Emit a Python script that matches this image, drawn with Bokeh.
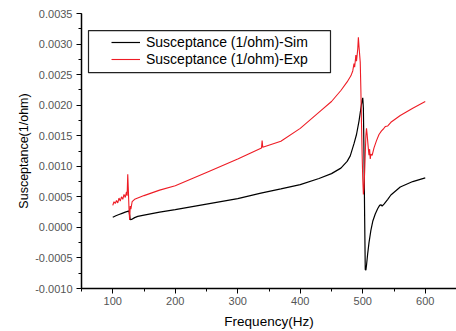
from bokeh.plotting import figure
from bokeh.models import (Range1d, SingleIntervalTicker, PrintfTickFormatter,
                          Legend, LegendItem)
from bokeh.embed import file_html
from bokeh.resources import INLINE

sim_freq = [100, 105, 110, 115, 120, 125, 126, 127, 128, 130, 135, 140, 150, 175,
            200, 250, 300, 337, 369, 400, 430, 450, 465, 475, 480, 486, 490, 494,
            497, 499, 500, 501, 502, 503, 504, 505, 506, 508, 510, 513, 516, 520,
            524, 527, 529, 531, 534, 540, 545, 560, 580, 600]
sim_b = [0.000166, 0.00019, 0.00021, 0.00023, 0.00025, 0.000265, 0.00027, 0.00020,
         0.000125, 0.00013, 0.00016, 0.00018, 0.00020, 0.00025, 0.00029, 0.00038,
         0.00047, 0.00056, 0.00063, 0.00070, 0.00080, 0.00088, 0.00097, 0.00108,
         0.00117, 0.00137, 0.00152, 0.00174, 0.00195, 0.00208, 0.00212, 0.00195,
         0.0012, 0.0002, -0.00069, -0.00070, -0.00062, -0.00042, -0.00025, -0.00005,
         0.0001, 0.00022, 0.00031, 0.00036, 0.00037, 0.00035, 0.00038, 0.00046,
         0.00053, 0.00066, 0.00075, 0.00081]

exp_freq = [100, 102, 104, 106, 108, 110, 112, 114, 116, 118, 120, 122, 123, 124,
            125, 126, 127, 128, 129, 131, 135, 150, 175, 200, 250, 300, 338, 339,
            340, 369, 400, 433, 450, 465, 475, 481, 484, 486, 487, 489, 490, 492,
            493, 494, 496, 497, 498, 499, 500, 501, 502, 503, 504, 505, 506, 507,
            508, 509, 510, 511, 512, 513, 515, 518, 522, 526, 530, 533, 536, 540,
            545, 560, 580, 600]
exp_b = [0.00036, 0.00042, 0.00039, 0.00044, 0.00040, 0.00048, 0.00043, 0.00050,
         0.00046, 0.00054, 0.00049, 0.00058, 0.00052, 0.00087, 0.00060, 0.00030,
         0.00012, 0.00035, 0.00030, 0.00042, 0.00046, 0.00052, 0.00061, 0.00068,
         0.00090, 0.00112, 0.00130, 0.00142, 0.00131, 0.00141, 0.00162, 0.00191,
         0.00206, 0.00224, 0.00238, 0.00248, 0.00256, 0.00268, 0.00262, 0.00282,
         0.00272, 0.00292, 0.00311, 0.00296, 0.00270, 0.00225, 0.00170, 0.00120,
         0.00080, 0.00054, 0.00065, 0.00090, 0.00120, 0.00150, 0.00162, 0.00152,
         0.00140, 0.00128, 0.00118, 0.00128, 0.00112, 0.00120, 0.00118, 0.00130,
         0.00142, 0.00152, 0.00158, 0.00161, 0.00165, 0.00166, 0.00172, 0.00183,
         0.00195, 0.00206]

series_labels = ["Susceptance (1/ohm)-Sim", "Susceptance (1/ohm)-Exp"]
x_title = "Frequency(Hz)"
y_title = "Susceptance(1/ohm)"

# legend frame (layout, in axis units)
legend_box = dict(left=61.2, right=448.4, top=0.003221, bottom=0.002531)

FONT = "Liberation Sans"

p = figure(width=456, height=331, output_backend="svg", toolbar_location=None,
           x_range=Range1d(50, 650), y_range=Range1d(-0.0010, 0.0035),
           min_border_left=81, min_border_top=13, min_border_right=0,
           min_border_bottom=0)
p.outline_line_color = None
p.xgrid.visible = False
p.ygrid.visible = False
p.background_fill_color = "white"
p.border_fill_color = "white"

for ax in (p.xaxis[0], p.yaxis[0]):
    ax.axis_line_color = "black"
    ax.axis_line_width = 1.5
    ax.major_tick_line_color = "black"
    ax.minor_tick_line_color = "black"
    ax.major_tick_out = 5
    ax.major_tick_in = 0
    ax.minor_tick_out = 3
    ax.minor_tick_in = 0
    ax.major_label_text_font = FONT
    ax.major_label_text_font_size = "11px"
    ax.major_label_text_color = "#555555"
    ax.axis_label_text_font = FONT
    ax.axis_label_text_font_style = "normal"
    ax.axis_label_text_color = "black"

p.xaxis[0].ticker = SingleIntervalTicker(interval=100, num_minor_ticks=2)
p.yaxis[0].ticker = SingleIntervalTicker(interval=0.0005, num_minor_ticks=2)
p.yaxis[0].formatter = PrintfTickFormatter(format="%.4f")
p.xaxis[0].axis_label = x_title
p.yaxis[0].axis_label = y_title
p.xaxis[0].axis_label_text_font_size = "13.5px"
p.yaxis[0].axis_label_text_font_size = "12.5px"
p.xaxis[0].major_label_standoff = 3
p.yaxis[0].major_label_standoff = 4
p.xaxis[0].axis_label_standoff = 6
p.yaxis[0].axis_label_standoff = 1

p.quad(left=[legend_box["left"]], right=[legend_box["right"]],
       top=[legend_box["top"]], bottom=[legend_box["bottom"]],
       fill_color="white", line_color="#222222", line_width=1.2)

r_sim = p.line(sim_freq, sim_b, line_color="black", line_width=1.2)
r_exp = p.line(exp_freq, exp_b, line_color="#ee1c25", line_width=1.1)

legend = Legend(items=[LegendItem(label=series_labels[0], renderers=[r_sim]),
                       LegendItem(label=series_labels[1], renderers=[r_exp])],
                location=(25, 216), padding=5, spacing=1, margin=0,
                glyph_width=29, glyph_height=16, label_height=16,
                label_standoff=6, label_text_font=FONT,
                label_text_font_size="14px", label_text_color="black",
                label_text_line_height=1.0,
                border_line_alpha=0, background_fill_alpha=0)
p.add_layout(legend, "center")

open("out.html", "w").write(file_html(p, INLINE))
